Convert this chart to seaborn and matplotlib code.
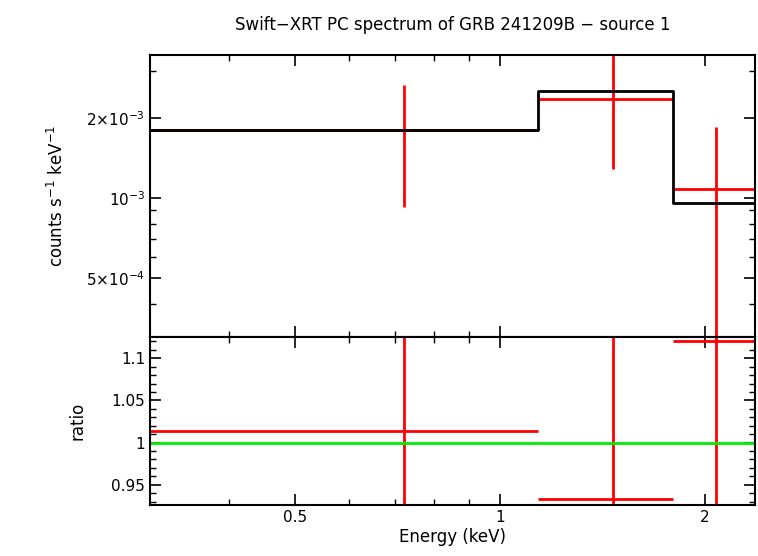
import numpy as np
import matplotlib
matplotlib.use("Agg")
import matplotlib.pyplot as plt
import seaborn as sns
from matplotlib.ticker import FixedLocator, FixedFormatter, NullFormatter

# ----- dati -----
bin_lo = [0.306, 1.137, 1.796]
bin_hi = [1.137, 1.796, 2.37]
bin_mid = [0.723, 1.465, 2.075]
rate = [1.80e-3, 2.36e-3, 1.08e-3]
rate_lo = [0.925e-3, 1.28e-3, 1e-5]
rate_hi = [2.66e-3, 3.6e-3, 1.85e-3]
model = [1.80e-3, 2.53e-3, 0.958e-3]
ratio = [1.014, 0.933, 1.12]
ratio_lo = [0.49, 0.50, 0.0]
ratio_hi = [1.48, 1.46, 1.9]

sns.set_style("ticks", {"text.color": "black", "axes.labelcolor": "black",
                        "xtick.color": "black", "ytick.color": "black",
                        "axes.edgecolor": "black"})
fig = plt.figure(figsize=(7.58, 5.56), dpi=100)
ax1 = fig.add_axes([0.198, 0.394, 0.798, 0.507])
ax2 = fig.add_axes([0.198, 0.0917, 0.798, 0.302], sharex=ax1)

xlo = np.array(bin_lo); xhi = np.array(bin_hi); xm = np.array(bin_mid)

# ----- pannello superiore -----
ax1.errorbar(xm, rate, xerr=[xm - xlo, xhi - xm],
             yerr=[np.array(rate) - np.array(rate_lo), np.array(rate_hi) - np.array(rate)],
             fmt="none", ecolor="red", elinewidth=2)
ax1.step(list(bin_lo) + [bin_hi[-1]], model + [model[-1]], where="post", color="black", lw=2)
ax1.set_xscale("log")
ax1.set_yscale("log")
ax1.set_xlim(0.306, 2.37)
ax1.set_ylim(3.0e-4, 3.45e-3)
ax1.yaxis.set_major_locator(FixedLocator([5e-4, 1e-3, 2e-3]))
ax1.yaxis.set_major_formatter(FixedFormatter(["5×10$^{-4}$", "10$^{-3}$", "2×10$^{-3}$"]))
ax1.yaxis.set_minor_formatter(NullFormatter())
ax1.set_ylabel("counts s$^{-1}$ keV$^{-1}$", fontsize=12, labelpad=14)
ax1.tick_params(labelbottom=False)
ax1.set_title("Swift\u2212XRT PC spectrum of GRB 241209B \u2212 source 1", fontsize=12, pad=18)

# ----- pannello inferiore (ratio) -----
ax2.errorbar(xm, ratio, xerr=[xm - xlo, xhi - xm],
             yerr=[np.array(ratio) - np.array(ratio_lo), np.array(ratio_hi) - np.array(ratio)],
             fmt="none", ecolor="red", elinewidth=2)
ax2.axhline(1.0, color="#00ee00", lw=2)
ax2.set_ylim(0.926, 1.125)
ax2.set_yticks([0.95, 1, 1.05, 1.1])
ax2.set_yticklabels(["0.95", "1", "1.05", "1.1"])
ax2.set_ylabel("ratio", fontsize=12, labelpad=18)
ax2.set_xlabel("Energy (keV)", fontsize=12, labelpad=2)
ax2.xaxis.set_major_locator(FixedLocator([0.5, 1, 2]))
ax2.xaxis.set_major_formatter(FixedFormatter(["0.5", "1", "2"]))
ax2.xaxis.set_minor_formatter(NullFormatter())

for ax in (ax1, ax2):
    for s in ax.spines.values():
        s.set_linewidth(1.5)
    ax.tick_params(which="both", direction="in", top=True, right=True, labelsize=11)
    ax.tick_params(which="major", length=8, width=1.2)
    ax.tick_params(which="minor", length=4, width=1)
ax2.yaxis.set_minor_locator(FixedLocator(np.arange(0.93, 1.125, 0.01)))

fig.savefig("out.png", dpi=100)
